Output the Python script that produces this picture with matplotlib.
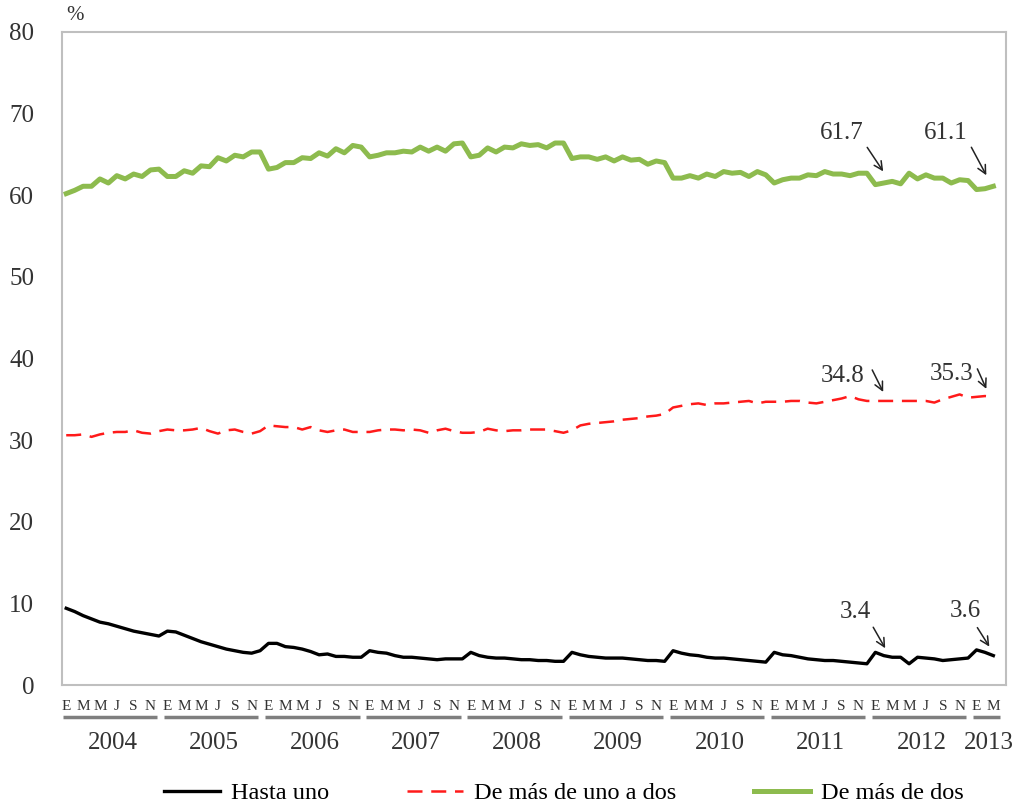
import matplotlib
matplotlib.use("Agg")
import matplotlib.pyplot as plt

plt.rcParams['font.family'] = ['Liberation Serif', 'DejaVu Serif']

# monthly series, Jan 2004 - Mar 2013 (%)
hasta_uno = [
    9.4, 9.0, 8.5, 8.1, 7.7, 7.5, 7.2, 6.9, 6.6, 6.4, 6.2, 6.0,
    6.6, 6.5, 6.1, 5.7, 5.3, 5.0, 4.7, 4.4, 4.2, 4.0, 3.9, 4.2,
    5.1, 5.1, 4.7, 4.6, 4.4, 4.1, 3.7, 3.8, 3.5, 3.5, 3.4, 3.4,
    4.2, 4.0, 3.9, 3.6, 3.4, 3.4, 3.3, 3.2, 3.1, 3.2, 3.2, 3.2,
    4.0, 3.6, 3.4, 3.3, 3.3, 3.2, 3.1, 3.1, 3.0, 3.0, 2.9, 2.9,
    4.0, 3.7, 3.5, 3.4, 3.3, 3.3, 3.3, 3.2, 3.1, 3.0, 3.0, 2.9,
    4.2, 3.9, 3.7, 3.6, 3.4, 3.3, 3.3, 3.2, 3.1, 3.0, 2.9, 2.8,
    4.0, 3.7, 3.6, 3.4, 3.2, 3.1, 3.0, 3.0, 2.9, 2.8, 2.7, 2.6,
    4.0, 3.6, 3.4, 3.4, 2.6, 3.4, 3.3, 3.2, 3.0, 3.1, 3.2, 3.3,
    4.3, 4.0, 3.6,
]
uno_a_dos = [
    30.6, 30.6, 30.7, 30.4, 30.7, 30.9, 31.0, 31.0, 31.2, 30.9, 30.8, 31.1,
    31.3, 31.2, 31.2, 31.3, 31.5, 31.1, 30.8, 31.2, 31.3, 31.0, 30.8, 31.1,
    31.8, 31.7, 31.6, 31.6, 31.3, 31.6, 31.2, 31.0, 31.2, 31.3, 31.0, 31.0,
    31.0, 31.2, 31.3, 31.3, 31.2, 31.3, 31.2, 30.9, 31.2, 31.4, 31.1, 30.9,
    30.9, 31.0, 31.4, 31.2, 31.1, 31.2, 31.2, 31.3, 31.3, 31.3, 31.1, 30.9,
    31.2, 31.8, 32.0, 32.1, 32.2, 32.3, 32.5, 32.6, 32.7, 32.9, 33.0, 33.2,
    34.0, 34.2, 34.4, 34.5, 34.3, 34.5, 34.5, 34.6, 34.7, 34.8, 34.5, 34.7,
    34.7, 34.7, 34.8, 34.8, 34.6, 34.5, 34.7, 34.9, 35.1, 35.4, 35.0, 34.8,
    34.8, 34.8, 34.8, 34.8, 34.8, 34.8, 34.8, 34.6, 35.0, 35.3, 35.6, 35.2,
    35.3, 35.4, 35.3,
]
mas_de_dos = [
    60.2, 60.6, 61.1, 61.1, 62.0, 61.5, 62.4, 62.0, 62.6, 62.3, 63.1, 63.2,
    62.3, 62.3, 63.0, 62.7, 63.6, 63.5, 64.6, 64.2, 64.9, 64.7, 65.3, 65.3,
    63.2, 63.4, 64.0, 64.0, 64.6, 64.5, 65.2, 64.8, 65.7, 65.2, 66.1, 65.9,
    64.7, 64.9, 65.2, 65.2, 65.4, 65.3, 65.9, 65.4, 65.9, 65.4, 66.3, 66.4,
    64.7, 64.9, 65.8, 65.3, 65.9, 65.8, 66.3, 66.1, 66.2, 65.8, 66.4, 66.4,
    64.5, 64.7, 64.7, 64.4, 64.7, 64.2, 64.7, 64.3, 64.4, 63.8, 64.2, 64.0,
    62.1, 62.1, 62.4, 62.1, 62.6, 62.3, 62.9, 62.7, 62.8, 62.3, 62.9, 62.5,
    61.5, 61.9, 62.1, 62.1, 62.5, 62.4, 62.9, 62.6, 62.6, 62.4, 62.7, 62.7,
    61.3, 61.5, 61.7, 61.4, 62.7, 62.0, 62.5, 62.1, 62.1, 61.5, 61.9, 61.8,
    60.7, 60.8, 61.1,
]

years = [2004, 2005, 2006, 2007, 2008, 2009, 2010, 2011, 2012, 2013]
months_per_year = [12, 12, 12, 12, 12, 12, 12, 12, 12, 4]  # axis slots
month_letters = ['E', 'F', 'M', 'A', 'M', 'J', 'J', 'A', 'S', 'O', 'N', 'D']
labels = ['Hasta uno', 'De más de uno a dos', 'De más de dos']

# (series, month index, text offset, arrow start offset, arrow tip offset) in px
notes = [
    (mas_de_dos, 98, (-50, 48), (-25, 34), (-9, 10)),
    (mas_de_dos, 110, (-48, 53), (-22, 39), (-7, 11)),
    (uno_a_dos, 98, (-50, 25), (-20, 31), (-9, 9)),
    (uno_a_dos, 110, (-42, 23), (-16, 28), (-7, 8)),
    (hasta_uno, 98, (-37, 45), (-19, 30), (-7, 9)),
    (hasta_uno, 110, (-28, 45), (-16, 28), (-4, 9)),
]

fig = plt.figure(figsize=(10.3, 8.07), dpi=100)
ax = fig.add_axes([62 / 1030, 1 - 685 / 807, 944 / 1030, 653 / 807])

x = list(range(len(hasta_uno)))
l1, = ax.plot(x, hasta_uno, color='black', lw=2.4, solid_joinstyle='round')
l2, = ax.plot(x, uno_a_dos, color='#ff1a1a', lw=1.8, dashes=(6, 3.5))
l3, = ax.plot(x, mas_de_dos, color='#8dbb4e', lw=3.6, solid_joinstyle='round')

n_slots = sum(months_per_year)
ax.set_xlim(-0.5, n_slots - 0.5)
ax.set_ylim(0, 80)
ax.set_yticks(range(0, 81, 10))
ax.tick_params(axis='y', length=0, pad=20, labelsize=18, colors='#333333')

# month letters, year underlines and year labels
ticks, ticklabels = [], []
start = 0
xt = ax.get_xaxis_transform()
for yr, nm in zip(years, months_per_year):
    for m in range(0, nm, 2):
        ticks.append(start + m)
        ticklabels.append(month_letters[m])
    ax.plot([start - 0.4, start + nm - 1.2], [-0.049, -0.049], transform=xt,
            color='#7f7f7f', lw=2.5, clip_on=False, solid_capstyle='butt')
    ax.text(start + (nm - 1) / 2, -0.089, str(yr), transform=xt, ha='center',
            va='center', fontsize=18, color='#333333')
    start += nm
ax.set_xticks(ticks)
ax.set_xticklabels(ticklabels)
ax.tick_params(axis='x', length=0, pad=11, labelsize=11, colors='#333333')

for s in ax.spines.values():
    s.set_color('#bfbfbf')
    s.set_linewidth(1.5)

# value labels with small arrows
inv = ax.transData.inverted()
for series, i, txt_off, a_off, tip_off in notes:
    v = series[i]
    bx, by = ax.transData.transform((i, v))
    ax.annotate(f'{v:.1f}', xy=(i, v), xytext=txt_off, textcoords='offset pixels',
                ha='center', va='center', fontsize=18, color='#333333')
    ax.annotate('', xy=inv.transform((bx + tip_off[0], by + tip_off[1])),
                xytext=inv.transform((bx + a_off[0], by + a_off[1])),
                arrowprops=dict(arrowstyle='->,head_length=0.6,head_width=0.3',
                                color='#222222', lw=1.1, shrinkA=0, shrinkB=0))

fig.text(75 / 1030, 1 - 16 / 807, '%', fontsize=15, ha='center', va='center',
         color='#333333')

fig.legend([l1, l2, l3], labels, loc='center', bbox_to_anchor=(564 / 1030, 1 - 793 / 807),
           ncol=3, frameon=False, fontsize=17.5, handlelength=2.3, handletextpad=0.45,
           columnspacing=3.2)

fig.savefig('out.png', dpi=100)
